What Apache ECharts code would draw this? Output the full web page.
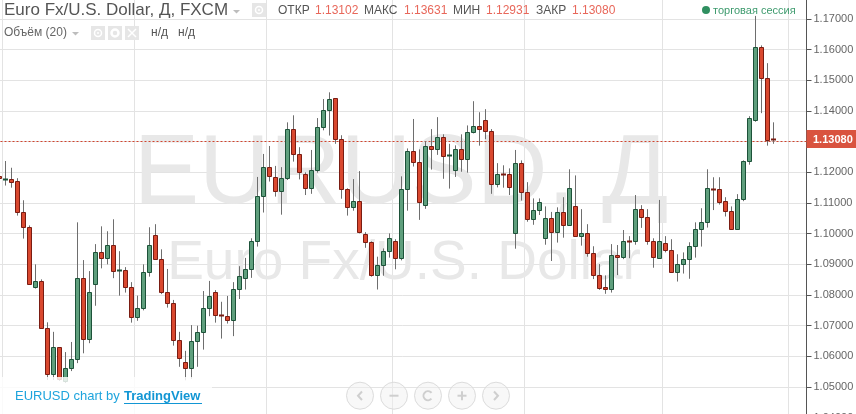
<!DOCTYPE html>
<html><head><meta charset="utf-8">
<style>html,body{margin:0;padding:0;background:#fff}#c{width:856px;height:414px}</style>
<script src="https://cdn.jsdelivr.net/npm/echarts@6/dist/echarts.min.js"></script>
</head><body><div id="c"></div>
<script>
const opens=[1.1189,1.1177,1.1177,1.1171,1.1070,1.1021,1.0825,1.0845,1.0692,1.0542,1.0630,1.0520,1.0561,1.0591,1.0855,1.0656,1.0835,1.0939,1.0920,1.0962,1.0878,1.0881,1.0825,1.0728,1.0757,1.0874,1.0995,1.0917,1.0809,1.0773,1.0653,1.0581,1.0561,1.0649,1.0679,1.0757,1.0809,1.0734,1.0731,1.0718,1.0819,1.0855,1.0884,1.0975,1.1122,1.1217,1.1184,1.1138,1.1181,1.1340,1.1259,1.1194,1.1148,1.1207,1.1347,1.1402,1.1441,1.1308,1.1145,1.1086,1.1106,1.0998,1.0972,1.0864,1.0897,1.0943,1.0975,1.0920,1.1145,1.1269,1.1233,1.1093,1.1285,1.1275,1.1314,1.1253,1.1207,1.1275,1.1243,1.1331,1.1350,1.1370,1.1334,1.1161,1.1195,1.1194,1.1001,1.1230,1.1135,1.1047,1.1076,1.0985,1.1050,1.1005,1.1070,1.1027,1.1089,1.0992,1.1001,1.0936,1.0864,1.0825,1.0819,1.0930,1.0923,1.0975,1.0975,1.1080,1.1054,1.0975,1.0922,1.0969,1.0946,1.0874,1.0900,1.0917,1.0959,1.1014,1.1037,1.1146,1.1145,1.1108,1.1073,1.1016,1.1112,1.1236,1.1370,1.1608,1.1507,1.13102];
const closes=[1.1183,1.1178,1.1170,1.1070,1.1021,1.0835,1.0845,1.0692,1.0542,1.0630,1.0526,1.0561,1.0591,1.0855,1.0656,1.0809,1.0939,1.0920,1.0962,1.0878,1.0880,1.0825,1.0728,1.0757,1.0874,1.0962,1.0917,1.0809,1.0773,1.0653,1.0594,1.0561,1.0649,1.0679,1.0757,1.0796,1.0734,1.0732,1.0718,1.0819,1.0861,1.0884,1.0975,1.1122,1.1217,1.1187,1.1138,1.1181,1.1340,1.1259,1.1202,1.1148,1.1207,1.1347,1.1402,1.1438,1.1308,1.1145,1.1086,1.1106,1.1005,1.0972,1.0864,1.0897,1.0943,1.0985,1.0920,1.1145,1.1269,1.1233,1.1102,1.1285,1.1275,1.1314,1.1252,1.1255,1.1275,1.1243,1.1331,1.1350,1.1340,1.1334,1.1161,1.1194,1.1193,1.1151,1.1230,1.1135,1.1047,1.1076,1.1102,1.1050,1.1005,1.1070,1.1027,1.1148,1.0992,1.1001,1.0936,1.0864,1.0822,1.0819,1.0930,1.0923,1.0975,1.0973,1.1080,1.1054,1.0975,1.0923,1.0975,1.0946,1.0874,1.0900,1.0917,1.0959,1.1014,1.1037,1.1148,1.1144,1.1102,1.1073,1.1016,1.1112,1.1236,1.1376,1.1608,1.1507,1.1305,1.13080];
const lows=[1.1182,1.1157,1.1150,1.1059,1.0984,1.0835,1.0821,1.0692,1.0523,1.0523,1.0520,1.0513,1.0552,1.0578,1.0610,1.0643,1.0765,1.0887,1.0900,1.0855,1.0798,1.0808,1.0710,1.0716,1.0750,1.0860,1.0917,1.0803,1.0759,1.0635,1.0566,1.0522,1.0527,1.0566,1.0622,1.0731,1.0710,1.0658,1.0707,1.0666,1.0787,1.0818,1.0856,1.0958,1.1069,1.1170,1.1121,1.1062,1.1175,1.1235,1.1177,1.1126,1.1130,1.1199,1.1337,1.1320,1.1293,1.1114,1.1059,1.1075,1.1001,1.0954,1.0860,1.0818,1.0863,1.0922,1.0884,1.0913,1.1075,1.1219,1.1045,1.1081,1.1209,1.1257,1.1179,1.1147,1.1185,1.1202,1.1199,1.1327,1.1287,1.1308,1.1130,1.1151,1.1150,1.1126,1.0951,1.1108,1.1039,1.1029,1.1061,1.0964,1.0911,1.0971,1.0987,1.1026,1.0990,1.0961,1.0925,1.0852,1.0817,1.0804,1.0808,1.0865,1.0917,1.0920,1.0964,1.1019,1.0964,1.0889,1.0919,1.0939,1.0874,1.0844,1.0870,1.0853,1.0922,1.0958,1.1020,1.1077,1.1095,1.1056,1.1013,1.1013,1.1106,1.1225,1.1365,1.1393,1.1287,1.12931];
const highs=[1.1190,1.1237,1.1215,1.1181,1.1109,1.1027,1.0900,1.0851,1.0711,1.0680,1.0630,1.0614,1.0647,1.1037,1.0914,1.0878,1.0966,1.1024,1.1008,1.1047,1.0943,1.0891,1.0842,1.0798,1.0900,1.1021,1.1031,1.0949,1.0885,1.0784,1.0680,1.0618,1.0702,1.0700,1.0813,1.0846,1.0816,1.0778,1.0797,1.0842,1.0894,1.0921,1.0985,1.1185,1.1260,1.1286,1.1221,1.1217,1.1363,1.1386,1.1282,1.1200,1.1273,1.1377,1.1439,1.1461,1.1441,1.1321,1.1148,1.1178,1.1204,1.1005,1.0975,1.0925,1.0952,1.1001,1.0982,1.1187,1.1278,1.1374,1.1275,1.1302,1.1341,1.1380,1.1324,1.1293,1.1288,1.1324,1.1353,1.1432,1.1396,1.1406,1.1341,1.1230,1.1223,1.1213,1.1273,1.1239,1.1168,1.1115,1.1115,1.1089,1.1071,1.1086,1.1119,1.1210,1.1190,1.1080,1.1031,1.0959,1.0901,1.0864,1.0966,1.0963,1.1012,1.0992,1.1126,1.1093,1.1080,1.0985,1.1110,1.0992,1.0982,1.0933,1.0939,1.0972,1.1037,1.1083,1.1210,1.1184,1.1184,1.1119,1.1089,1.1129,1.1239,1.1383,1.1710,1.1614,1.1556,1.13631];
const categories=Array.from({length:135},(_,i)=>String(i));
const verticalGridIndexes=[1,23,45,66,88,111,132];
const lastPrice=1.13080;
const yMin=1.03,yMax=1.18,yStep=0.01;

const RED='#d9482f',RED_B='#7a1c12',GREEN='#5f9f7d',GREEN_B='#1d5239',WICK='#6e6e6e';
const FONT='"Liberation Sans",Arial,sans-serif';
const rows=opens.map((o,i)=>[i,o,closes[i],lows[i],highs[i]]);
function candle(params,api){
  const i=api.value(0),o=api.value(1),c=api.value(2),l=api.value(3),h=api.value(4);
  const cx=Math.floor(api.coord([i,o])[0])+0.5;
  const yH=api.coord([i,h])[1],yL=api.coord([i,l])[1];
  const up=c>=o;
  const yT=Math.round(api.coord([i,Math.max(o,c)])[1])+0.5;
  let yB=Math.round(api.coord([i,Math.min(o,c)])[1])+0.5;
  const doji=yB-yT<1.5;
  return {type:'group',children:[
    {type:'line',shape:{x1:cx,y1:yH,x2:cx,y2:yL},style:{stroke:WICK,lineWidth:1}},
    doji?{type:'line',shape:{x1:cx-2.5,y1:yT,x2:cx+2.5,y2:yT},style:{stroke:up?GREEN_B:RED_B,lineWidth:2}}
        :{type:'rect',shape:{x:cx-2,y:yT,width:4,height:yB-yT},style:{fill:up?GREEN:RED,stroke:up?GREEN_B:RED_B,lineWidth:1}}
  ]};
}
const T=(x,y,text,fill,size,extra)=>Object.assign({type:'text',z:20,silent:true,style:{x,y,text,fill,font:(size||12)+'px '+FONT,textVerticalAlign:'middle'}},extra||{});
const iconBox=(x,y,kids)=>({type:'group',z:20,silent:true,children:[{type:'rect',z:20,shape:{x,y,width:14,height:14},style:{fill:'#e6e6e6'}}].concat(kids)});
const eye=(cx,cy)=>[{type:'circle',z:21,shape:{cx,cy,r:3.5},style:{fill:'none',stroke:'#fff',lineWidth:1.5}},{type:'circle',z:21,shape:{cx,cy,r:1},style:{fill:'#fff'}}];
const tri=(x,y)=>({type:'polygon',z:20,silent:true,shape:{points:[[x,y],[x+7,y],[x+3.5,y+3.5]]},style:{fill:'#bdbdbd'}});
const navBtn=(cx,kids)=>({type:'group',z:20,silent:true,children:[{type:'circle',z:20,shape:{cx,cy:395.7,r:13.5},style:{fill:'rgba(240,240,240,0.45)',stroke:'#dcdcdc',lineWidth:1}}].concat(kids)});
const pl=(pts)=>({type:'polyline',z:21,shape:{points:pts},style:{fill:'none',stroke:'#cfcfcf',lineWidth:2}});
const cy=395.7;
const graphics=[
  {type:'text',z:1,silent:true,style:{x:401,y:176,text:'EURUSD, Д',fill:'#e8e8e8',font:'98px '+FONT,textAlign:'center',textVerticalAlign:'middle'}},
  {type:'text',z:1,silent:true,style:{x:404,y:264,text:'Euro Fx/U.S. Dollar',fill:'#e8e8e8',font:'55px '+FONT,textAlign:'center',textVerticalAlign:'middle'}},
  T(4,10,'Euro Fx/U.S. Dollar, Д, FXCM','#555',17),
  tri(233,10),
  iconBox(252,3,eye(259,10)),
  T(278,11,'ОТКР','#555'),T(315,11,'1.13102','#e8675a'),
  T(364,11,'МАКС','#555'),T(404,11,'1.13631','#e8675a'),
  T(453,11,'МИН','#555'),T(486,11,'1.12931','#e8675a'),
  T(536,11,'ЗАКР','#555'),T(572,11,'1.13080','#e8675a'),
  {type:'circle',z:20,silent:true,shape:{cx:706,cy:10,r:4},style:{fill:'#2f8f60'}},
  T(713,10.5,'торговая сессия','#3d9a6d',11),
  T(4,33,'Объём (20)','#666',12),
  tri(72,32),
  iconBox(91,26,eye(98,33)),
  iconBox(108,26,[{type:'circle',z:21,shape:{cx:115,cy:33,r:3.5},style:{fill:'none',stroke:'#fff',lineWidth:2.5}}]),
  iconBox(125,26,[{type:'line',z:21,shape:{x1:128,y1:29,x2:136,y2:37},style:{stroke:'#fff',lineWidth:1.5}},{type:'line',z:21,shape:{x1:136,y1:29,x2:128,y2:37},style:{stroke:'#fff',lineWidth:1.5}}]),
  T(151,33,'н/д','#555'),T(178,33,'н/д','#555'),
  {type:'rect',z:15,silent:true,shape:{x:0,y:377,width:212,height:37},style:{fill:'rgba(255,255,255,0.82)'}},
  T(15,396,'EURUSD chart by ','#1ea4dd',13),
  T(124,396,'TradingView','#1ea4dd',13,{style:{x:124,y:396,text:'TradingView',fill:'#1296d4',font:'bold 13px '+FONT,textVerticalAlign:'middle'}}),
  {type:'line',z:20,silent:true,shape:{x1:124,y1:403.5,x2:202,y2:403.5},style:{stroke:'#1296d4',lineWidth:1}},
  navBtn(360,[pl([[362,391.5],[358,cy],[362,400]])]),
  navBtn(394,[pl([[389.5,cy],[398.5,cy]])]),
  navBtn(428,[{type:'arc',z:21,shape:{cx:428,cy,r:4.5,startAngle:0.7,endAngle:5.6},style:{fill:'none',stroke:'#cfcfcf',lineWidth:2}}]),
  navBtn(462,[pl([[457.5,cy],[466.5,cy]]),pl([[462,391.2],[462,400.2]])]),
  navBtn(496,[pl([[494,391.5],[498,cy],[494,400]])]),
  {type:'rect',z:20,silent:true,shape:{x:806.5,y:130,width:50,height:18},style:{fill:'#d9533f'}},
  T(813,139.5,'1.13080','#fff',11,{style:{x:813,y:139.5,text:'1.13080',fill:'#fff',font:'bold 11px '+FONT,textVerticalAlign:'middle'}})
];
const chart=echarts.init(document.getElementById('c'),null,{renderer:'canvas'});
chart.setOption({
  animation:false,
  backgroundColor:'#fff',
  grid:{left:-3.5,width:810,top:-11.67,height:460.05,containLabel:false,outerBoundsMode:'none'},
  xAxis:{type:'category',data:categories,boundaryGap:true,axisLine:{show:false},axisTick:{show:false},axisLabel:{show:false},
    splitLine:{show:true,interval:(i)=>verticalGridIndexes.includes(i),lineStyle:{color:'#e3e3e3',width:1}}},
  yAxis:{type:'value',position:'right',min:yMin,max:yMax,interval:yStep,
    axisLine:{show:true,onZero:false,lineStyle:{color:'#555',width:1}},
    axisTick:{show:true,length:5,inside:false,lineStyle:{color:'#555'}},
    axisLabel:{show:true,margin:7,color:'#666',fontSize:11,fontFamily:'"Liberation Sans",Arial,sans-serif',formatter:v=>v.toFixed(5)},
    splitLine:{show:true,lineStyle:{color:'#e3e3e3',width:1}}},
  series:[{type:'custom',data:rows,encode:{x:0,y:[1,2,3,4]},clip:false,renderItem:candle,z:5,
    markLine:{silent:true,symbol:'none',label:{show:false},animation:false,
      lineStyle:{color:'#d0442e',type:[2,2],width:1,opacity:1},data:[{yAxis:lastPrice}]}}],
  graphic:graphics
});
</script></body></html>
